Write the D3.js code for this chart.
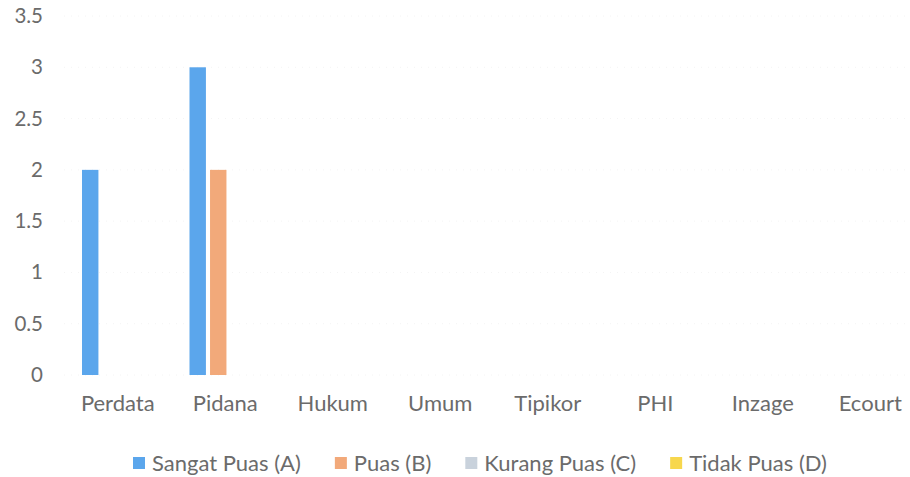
<!DOCTYPE html>
<html>
<head>
<meta charset="utf-8">
<script src="https://cdn.jsdelivr.net/npm/d3@7"></script>
<style>
  body { margin: 0; background: #fff; }
  text { font-family: Lato, "Open Sans", sans-serif; fill: #6b6b6b; }
</style>
</head>
<body>
<div id="chart"></div>
<script>
var categories = ["Perdata", "Pidana", "Hukum", "Umum", "Tipikor", "PHI", "Inzage", "Ecourt"];
var seriesNames = ["Sangat Puas (A)", "Puas (B)", "Kurang Puas (C)", "Tidak Puas (D)"];
var sangatPuas = [2, 3, 0, 0, 0, 0, 0, 0];
var puas = [0, 2, 0, 0, 0, 0, 0, 0];
var kurangPuas = [0, 0, 0, 0, 0, 0, 0, 0];
var tidakPuas = [0, 0, 0, 0, 0, 0, 0, 0];
var yTicks = [0, 0.5, 1, 1.5, 2, 2.5, 3, 3.5];
var colors = ["#5ba6ec", "#f2a97a", "#c9d2dc", "#f7d74e"];

var svgwidth = 910;
var svgheight = 477;

var svg = d3.select("#chart").append("svg").attr("width", svgwidth).attr("height", svgheight);

var seriesValues = [sangatPuas, puas, kurangPuas, tidakPuas];
var rows = categories.map(function(c, i) {
    return { cat: c, vals: seriesValues.map(function(s, j) { return { key: seriesNames[j], value: s[i], idx: j }; }) };
});

var x0 = d3.scaleBand().domain(categories).range([64, 924]).padding(0);
var x1 = d3.scaleBand().domain(seriesNames).range([18, 96]).paddingInner(0.2).paddingOuter(0);
var y = d3.scaleLinear().domain([0, 3.5]).range([375, 16]);

// faint gridlines
svg.append("g").selectAll("line")
    .data(yTicks)
    .enter().append("line")
    .attr("x1", 64).attr("x2", 910)
    .attr("y1", d => y(d)).attr("y2", d => y(d))
    .attr("stroke", "#f4f4f4")
    .attr("stroke-dasharray", "1,6");

// y axis labels
var leftAxis = d3.axisLeft(y).tickValues(yTicks).tickSize(0).tickPadding(0).tickFormat(d3.format("~g"));
var yAxis = svg.append("g").attr("transform", "translate(43,0)").call(leftAxis);
yAxis.select(".domain").remove();
yAxis.selectAll("text").style("font-size", "20.5px").attr("fill", "#6b6b6b");

// x axis labels
var bottomAxis = d3.axisBottom(x0).tickSize(0).tickPadding(0);
var xAxis = svg.append("g").attr("transform", "translate(0,395)").call(bottomAxis);
xAxis.select(".domain").remove();
xAxis.selectAll("text").style("font-size", "22px").attr("fill", "#6b6b6b");

// bars
var groups = svg.append("g").selectAll("g")
    .data(rows)
    .enter().append("g")
    .attr("transform", d => `translate(${x0(d.cat)},0)`);

groups.selectAll("rect")
    .data(d => d.vals)
    .enter().append("rect")
    .attr("x", d => x1(d.key))
    .attr("width", x1.bandwidth())
    .attr("y", d => y(d.value))
    .attr("height", d => y(0) - y(d.value))
    .attr("fill", d => colors[d.idx]);

// legend
var legend = svg.append("g").attr("transform", "translate(0,463)");
var lx = 133;
seriesNames.forEach(function(name, i) {
    legend.append("rect").attr("x", lx).attr("y", -6).attr("width", 12).attr("height", 12).attr("fill", colors[i]);
    var t = legend.append("text").attr("x", lx + 19).attr("y", 0).attr("dy", "0.35em")
        .style("font-size", "22px").text(name);
    lx += 19 + t.node().getComputedTextLength() + 34;
});
</script>
</body>
</html>
